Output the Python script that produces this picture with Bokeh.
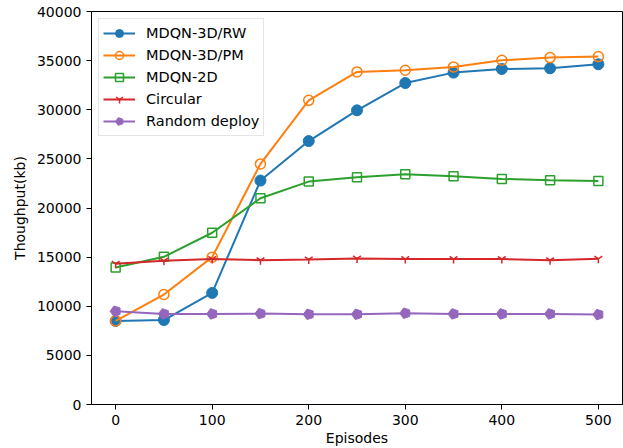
from bokeh.plotting import figure
from bokeh.models import Legend, LegendItem, FixedTicker, Range1d
from bokeh.embed import file_html
from bokeh.resources import INLINE

episodes = [0, 50, 100, 150, 200, 250, 300, 350, 400, 450, 500]
rw = [8500, 8600, 11360, 22790, 26810, 29940, 32720, 33780, 34150, 34220, 34630]
pm = [8500, 11190, 15000, 24490, 30960, 33850, 34020, 34360, 35040, 35310, 35410]
d2 = [13950, 15030, 17480, 20990, 22690, 23130, 23440, 23230, 22960, 22820, 22750]
circ = [14320, 14630, 14800, 14690, 14760, 14860, 14800, 14800, 14800, 14690, 14830]
rand = [9490, 9220, 9220, 9250, 9180, 9180, 9290, 9220, 9220, 9220, 9150]

x_ticks = [0, 100, 200, 300, 400, 500]
y_ticks = [0, 5000, 10000, 15000, 20000, 25000, 30000, 35000, 40000]

FONT = "DejaVu Sans"

p = figure(width=623, height=448, output_backend="svg", toolbar_location=None,
           x_range=Range1d(-25, 525), y_range=Range1d(0, 40000),
           min_border_left=91, min_border_right=1, min_border_top=11, min_border_bottom=44)
p.grid.visible = False
p.outline_line_color = "black"
p.outline_line_width = 1
p.outline_line_alpha = 1

for ax in (p.xaxis[0], p.yaxis[0]):
    ax.major_tick_out = 5
    ax.major_tick_in = 0
    ax.minor_tick_line_color = None
    ax.axis_line_color = "black"
    ax.major_tick_line_color = "black"
    ax.major_label_text_font = FONT
    ax.major_label_text_font_size = "14px"
    ax.major_label_text_color = "black"
    ax.axis_label_text_font = FONT
    ax.axis_label_text_font_size = "14px"
    ax.axis_label_text_font_style = "normal"
    ax.axis_label_text_color = "black"

p.xaxis.ticker = FixedTicker(ticks=x_ticks)
p.yaxis.ticker = FixedTicker(ticks=y_ticks)
p.xaxis.axis_label = "Episodes"
p.yaxis.axis_label = "Thoughput(kb)"
p.xaxis.axis_label_standoff = 2
p.yaxis.axis_label_standoff = 6

colors = ["#1f77b4", "#ff7f0e", "#2ca02c", "#d62728", "#9467bd"]
items = []

l1 = p.line(episodes, rw, line_color=colors[0], line_width=2)
m1 = p.scatter(episodes, rw, marker="circle", size=11, fill_color=colors[0], line_color=colors[0])
items.append(LegendItem(label="MDQN-3D/RW", renderers=[l1, m1]))

l2 = p.line(episodes, pm, line_color=colors[1], line_width=2)
m2 = p.scatter(episodes, pm, marker="circle", size=10, fill_color=None, line_color=colors[1], line_width=1.5)
items.append(LegendItem(label="MDQN-3D/PM", renderers=[l2, m2]))

l3 = p.line(episodes, d2, line_color=colors[2], line_width=2)
m3 = p.scatter(episodes, d2, marker="square", size=9, fill_color=None, line_color=colors[2], line_width=1.5)
items.append(LegendItem(label="MDQN-2D", renderers=[l3, m3]))

l4 = p.line(episodes, circ, line_color=colors[3], line_width=2)
m4 = p.scatter(episodes, circ, marker="y", size=9, fill_color=None, line_color=colors[3], line_width=1.5)
items.append(LegendItem(label="Circular", renderers=[l4, m4]))

l5 = p.line(episodes, rand, line_color=colors[4], line_width=2)
m5 = p.ngon(episodes, rand, radius=5.5, radius_units="screen", n=5, angle=1.5708,
            fill_color=colors[4], line_color=colors[4])
items.append(LegendItem(label="Random deploy", renderers=[l5, m5]))

legend = Legend(items=items, location="top_left")
legend.label_text_font = FONT
legend.label_text_font_size = "14.5px"
legend.label_text_color = "black"
legend.glyph_width = 32
legend.glyph_height = 20
legend.label_height = 20
legend.spacing = 2
legend.padding = 4
legend.margin = 7
legend.label_standoff = 11
legend.border_line_color = "#cccccc"
legend.border_line_width = 1
legend.background_fill_alpha = 0.8
p.add_layout(legend)

open("out.html", "w").write(file_html(p, INLINE))
